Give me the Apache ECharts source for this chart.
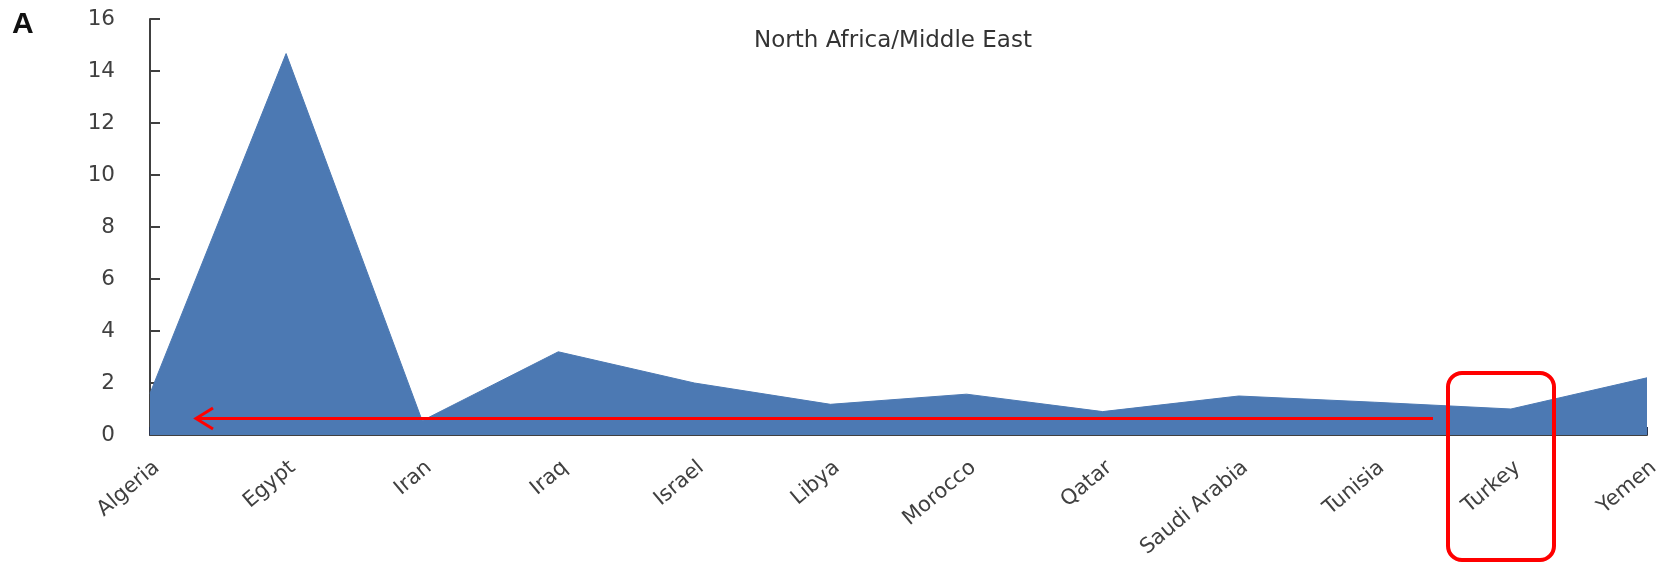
<!DOCTYPE html>
<html>
<head>
<meta charset="utf-8">
<script src="https://cdn.jsdelivr.net/npm/echarts@6/dist/echarts.min.js"></script>
<style>
html,body{margin:0;padding:0;background:#fff;}
#chart{width:1675px;height:563px;}
</style>
</head>
<body>
<div id="chart"></div>
<script>
const categories = ['Algeria','Egypt','Iran','Iraq','Israel','Libya','Morocco','Qatar','Saudi Arabia','Tunisia','Turkey','Yemen'];
const values = [1.6, 14.67, 0.55, 3.2, 2.0, 1.18, 1.57, 0.9, 1.5, 1.26, 1.0, 2.2];
const yTicks = [0, 2, 4, 6, 8, 10, 12, 14, 16];
const titleText = 'North Africa/Middle East';
const panelLabel = 'A';

const FONT = 'DejaVu Sans';
const chart = echarts.init(document.getElementById('chart'), null, {renderer: 'canvas'});
chart.setOption({
  animation: false,
  backgroundColor: '#ffffff',
  grid: {left: 150, right: 28, top: 19, bottom: 128, containLabel: false},
  xAxis: {
    type: 'category',
    data: categories,
    boundaryGap: false,
    axisLine: {lineStyle: {color: '#404040', width: 2}},
    axisTick: {inside: true, length: 8, lineStyle: {color: '#2a3550', width: 2}},
    axisLabel: {rotate: 40, margin: 22, verticalAlign: 'top', color: '#404040', fontFamily: FONT, fontSize: 21, interval: 0}
  },
  yAxis: {
    type: 'value',
    min: yTicks[0],
    max: yTicks[yTicks.length - 1],
    interval: 2,
    axisLine: {show: true, lineStyle: {color: '#404040', width: 2}},
    axisTick: {show: true, inside: true, length: 10, lineStyle: {color: '#404040', width: 2}},
    splitLine: {show: false},
    axisLabel: {margin: 35, color: '#404040', fontFamily: FONT, fontSize: 21.5}
  },
  series: [{
    type: 'line',
    data: values,
    symbol: 'none',
    smooth: false,
    lineStyle: {color: '#4c79b3', width: 1},
    areaStyle: {color: '#4c79b3', opacity: 1},
    z: 1
  }],
  graphic: [
    {type: 'text', left: 12, top: 10, z: 10,
     style: {text: panelLabel, fontFamily: 'Liberation Sans', fontWeight: 'bold', fontSize: 30, fill: '#111'}},
    {type: 'text', x: 893, y: 41, z: 10,
     style: {text: titleText, fontFamily: FONT, fontSize: 23, fill: '#333', textAlign: 'center', textVerticalAlign: 'middle'}},
    {type: 'line', z: 20, shape: {x1: 1433, y1: 418.5, x2: 197, y2: 418.5},
     style: {stroke: '#ff0000', lineWidth: 3}},
    {type: 'polyline', z: 20, shape: {points: [[213, 408], [196, 418.5], [213, 429]]},
     style: {stroke: '#ff0000', lineWidth: 3, fill: null}},
    {type: 'rect', z: 20, shape: {x: 1448, y: 373, width: 106, height: 187, r: 14},
     style: {stroke: '#ff0000', lineWidth: 4, fill: null}}
  ]
});
</script>
</body>
</html>
